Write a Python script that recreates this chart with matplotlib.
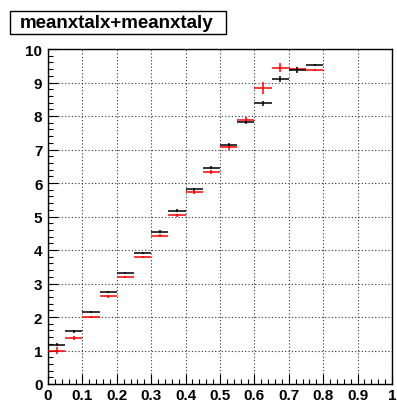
import matplotlib
matplotlib.use("Agg")
import matplotlib.pyplot as plt
from matplotlib.patches import Rectangle
from matplotlib.ticker import MultipleLocator
import numpy as np

bin_edges = [0.0, 0.05, 0.10, 0.15, 0.20, 0.25, 0.30, 0.35, 0.40, 0.45, 0.50,
             0.55, 0.60, 0.65, 0.70, 0.75, 0.80]
black_vals = [1.17, 1.57, 2.16, 2.75, 3.32, 3.91, 4.55, 5.17, 5.81, 6.46, 7.14,
              7.81, 8.38, 9.11, 9.38, 9.52]
black_err = [0.05, 0.04, 0.03, 0.03, 0.03, 0.03, 0.04, 0.04, 0.05, 0.05, 0.05,
             0.05, 0.07, 0.09, 0.09, 0.04]
red_vals = [1.00, 1.37, 2.00, 2.62, 3.19, 3.80, 4.43, 5.03, 5.72, 6.32, 7.08,
            7.88, 8.84, 9.44, 9.40, 9.36]
red_err = [0.10, 0.06, 0.04, 0.04, 0.03, 0.03, 0.04, 0.04, 0.05, 0.06, 0.09,
           0.08, 0.18, 0.13, 0.05, 0.03]
title_text = "meanxtalx+meanxtaly"

W, H = 397, 402
fig = plt.figure(figsize=(W / 100, H / 100), dpi=100)
ax = fig.add_axes([48 / W, 1 - 385 / H, (392 - 48) / W, (385 - 50) / H])

edges = np.array(bin_edges)
centers = (edges[:-1] + edges[1:]) / 2
half = (edges[1:] - edges[:-1]) / 2

ax.errorbar(centers, red_vals, xerr=half, yerr=red_err, fmt='none',
            ecolor='#ff0000', elinewidth=1.1, capsize=0, zorder=3)
ax.errorbar(centers, black_vals, xerr=half, yerr=black_err, fmt='none',
            ecolor='black', elinewidth=1.1, capsize=0, zorder=4)

ax.set_xlim(0, 1)
ax.set_ylim(0, 10)
ax.xaxis.set_major_locator(MultipleLocator(0.1))
ax.xaxis.set_minor_locator(MultipleLocator(0.02))
ax.yaxis.set_major_locator(MultipleLocator(1))
ax.yaxis.set_minor_locator(MultipleLocator(0.2))
ax.tick_params(which='both', direction='in', top=False, right=False, width=0.8)
ax.tick_params(which='major', length=7.5)
ax.tick_params(which='minor', length=3.8)
ax.tick_params(axis='x', pad=3)
ax.tick_params(axis='y', pad=4)
ax.set_xticks(np.round(np.arange(0, 1.01, 0.1), 1))
ax.set_xticklabels(['0', '0.1', '0.2', '0.3', '0.4', '0.5', '0.6', '0.7', '0.8', '0.9', '1'])
for lab in ax.get_xticklabels() + ax.get_yticklabels():
    lab.set_fontfamily('Liberation Sans')
    lab.set_fontweight('bold')
    lab.set_fontsize(11)
ax.grid(True, which='major', color='#333333', linestyle=(0, (1, 2)), linewidth=0.8)
ax.set_axisbelow(True)
for s in ax.spines.values():
    s.set_linewidth(1.0)

fig.patches.append(Rectangle((10 / W, 1 - 35 / H), (226 - 10) / W, (35 - 12) / H,
                             transform=fig.transFigure, facecolor='white',
                             edgecolor='black', linewidth=1.0))
fig.text(117 / W, 1 - 23.5 / H, title_text, ha='center', va='center',
         fontfamily='Liberation Sans', fontweight='bold', fontsize=13.5)

fig.savefig('out.png', dpi=100)
